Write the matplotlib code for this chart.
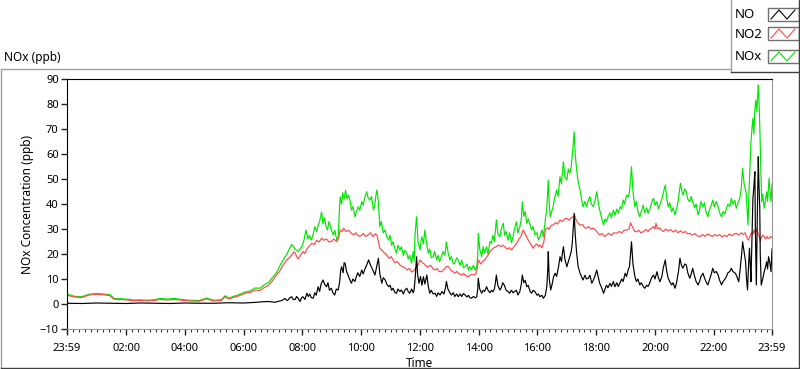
import matplotlib
matplotlib.use("Agg")
import matplotlib.pyplot as plt
from matplotlib.lines import Line2D
from matplotlib.patches import Rectangle

plt.rcParams['font.family'] = ['Noto Sans', 'DejaVu Sans']

# time in minutes after 23:59 of the previous day, values in ppb
no_t = [0, 30, 60, 90, 120, 150, 180, 210, 240, 270, 300, 330, 360, 380, 400, 411, 425,
        440, 445, 450, 455, 459, 462, 466, 469, 472, 476, 479, 482, 486, 490, 493, 496, 499,
        503, 506, 509, 513, 516, 519, 523, 526, 530, 533, 536, 540, 543, 547, 550, 554, 557,
        559, 561, 564, 566, 568, 571, 574, 577, 581, 584, 588, 591, 594, 598, 602, 605, 609,
        612, 616, 619, 623, 626, 629, 632, 634, 636, 639, 643, 646, 650, 653, 657, 660, 663,
        666, 670, 673, 676, 680, 683, 687, 690, 694, 697, 700, 704, 707, 709, 711, 714, 716,
        719, 722, 725, 728, 731, 735, 738, 741, 744, 748, 752, 755, 758, 762, 766, 770, 773,
        775, 778, 782, 785, 789, 792, 796, 799, 803, 806, 810, 813, 817, 820, 823, 826, 830,
        834, 837, 839, 840, 843, 847, 850, 853, 857, 860, 864, 867, 870, 873, 875, 877, 880,
        884, 887, 890, 893, 897, 901, 904, 908, 911, 914, 918, 921, 925, 928, 930, 933, 936,
        939, 942, 946, 949, 952, 956, 960, 963, 966, 970, 973, 977, 980, 982, 983, 985, 988,
        991, 994, 997, 1000, 1004, 1007, 1010, 1012, 1014, 1017, 1021, 1024, 1027, 1030,
        1032, 1034, 1036, 1038, 1041, 1044, 1048, 1051, 1054, 1058, 1061, 1065, 1068, 1072,
        1075, 1078, 1082, 1085, 1088, 1092, 1096, 1099, 1102, 1105, 1109, 1112, 1116, 1119,
        1123, 1126, 1129, 1133, 1136, 1140, 1143, 1146, 1149, 1151, 1153, 1156, 1160, 1163,
        1166, 1170, 1173, 1177, 1180, 1184, 1187, 1190, 1194, 1198, 1201, 1205, 1208, 1211,
        1215, 1218, 1222, 1225, 1228, 1231, 1235, 1238, 1242, 1245, 1249, 1252, 1255, 1258,
        1262, 1265, 1268, 1272, 1275, 1278, 1282, 1285, 1289, 1292, 1295, 1299, 1302, 1305,
        1309, 1312, 1316, 1319, 1322, 1326, 1330, 1333, 1337, 1340, 1344, 1347, 1350, 1354,
        1357, 1360, 1364, 1367, 1370, 1372, 1375, 1378, 1380, 1383, 1386, 1388, 1390, 1392,
        1394, 1396, 1397, 1399, 1401, 1403, 1405, 1406, 1408, 1410, 1412, 1413, 1415, 1416,
        1418, 1421, 1424, 1427, 1429, 1431, 1433, 1436, 1438, 1440]
no_v = [0.3, 0.2, 0.4, 0.3, 0.2, 0.4, 0.3, 0.2, 0.4, 0.3, 0.3, 0.5, 0.4, 0.6, 0.9, 1.0, 0.7,
        1.5, 2.2, 1.3, 2.5, 2.9, 1.8, 1.8, 3.0, 2.3, 1.0, 2.5, 2.9, 1.8, 4.3, 3.0, 4.0, 2.5,
        2.3, 4.5, 3.5, 6.9, 5.0, 8.0, 9.6, 8.0, 6.9, 8.5, 5.5, 6.3, 4.5, 3.6, 6.0, 5.6, 9.0,
        13.5, 14.9, 12.5, 16.5, 16.3, 13.0, 11.6, 10.0, 8.3, 10.0, 9.0, 10.9, 12.5, 11.0, 13.6, 12.0, 14.3,
        15.5, 17.6, 16.0, 14.3, 13.0, 11.6, 14.5, 16.5, 18.3, 12.0, 8.3, 10.5, 9.6, 8.0, 6.9, 7.5, 5.5,
        6.3, 4.5, 4.3, 6.0, 5.0, 5.6, 4.0, 5.5, 6.3, 5.0, 4.3, 6.0, 4.5, 5.6, 10.0, 18.9, 12.0,
        8.3, 11.0, 7.5, 10.9, 8.0, 11.6, 7.0, 4.3, 5.5, 4.0, 4.3, 3.0, 4.5, 3.6, 5.0, 4.0, 6.5,
        9.0, 6.0, 4.5, 3.6, 4.5, 3.0, 4.0, 2.9, 4.0, 3.0, 4.2, 3.6, 2.8, 3.5, 2.5, 2.3, 3.0,
        2.5, 2.9, 6.0, 10.3, 6.0, 4.3, 5.5, 5.0, 6.9, 5.5, 4.5, 5.5, 4.9, 6.0, 8.5, 11.6, 7.5,
        5.6, 6.5, 8.5, 7.6, 5.5, 5.0, 4.3, 5.5, 4.5, 4.9, 5.5, 3.6, 5.0, 8.0, 11.6, 8.5, 9.5,
        6.9, 7.5, 5.0, 4.3, 5.5, 4.9, 3.5, 4.0, 2.9, 3.5, 2.3, 3.5, 6.9, 14.0, 20.9, 10.0, 5.6,
        8.0, 11.0, 12.3, 11.0, 14.9, 18.9, 17.0, 20.5, 22.9, 18.0, 14.9, 17.0, 18.9, 21.0,
        24.3, 30.0, 36.3, 28.0, 20.3, 15.0, 12.3, 11.0, 9.6, 11.5, 10.0, 10.3, 11.5, 8.3,
        9.5, 11.0, 13.6, 11.0, 8.3, 6.5, 4.3, 6.0, 7.5, 6.5, 8.3, 7.0, 9.0, 6.9,
        8.5, 7.0, 8.3, 10.0, 9.0, 12.3, 11.0, 13.6, 15.0, 20.0, 24.9, 16.0, 10.9, 9.0,
        10.0, 7.6, 8.5, 7.0, 6.3, 7.5, 7.0, 8.3, 10.5, 11.6, 10.0, 12.9, 10.5, 8.9,
        11.0, 14.5, 17.6, 13.0, 10.3, 9.0, 7.6, 8.5, 6.3, 8.5, 13.0, 18.3, 15.5, 14.3,
        16.0, 15.6, 12.5, 10.3, 12.0, 14.3, 11.0, 9.0, 7.6, 9.0, 11.0, 12.3, 10.5, 9.0,
        7.6, 9.5, 12.0, 14.3, 12.5, 13.0, 11.6, 9.5, 7.6, 9.0, 10.0, 11.0, 12.5, 13.0,
        14.3, 13.0, 12.5, 11.6, 10.0, 8.9, 14.0, 20.0, 24.9, 21.0, 16.9, 10.0, 5.6, 15.0,
        22.3, 14.0, 8.9, 25.0, 42.3, 47.0, 52.9, 30.0, 7.6, 35.0, 58.9, 50.0, 38.3, 20.0,
        7.6, 10.0, 12.9, 15.0, 16.9, 14.0, 18.9, 16.0, 12.9, 22.0]

no2_t = [0, 15, 30, 45, 60, 75, 88, 96, 110, 125, 136, 150, 165, 177, 190, 205, 220, 235, 250,
         270, 285, 300, 315, 323, 330, 343, 352, 364, 374, 384, 394, 404, 412, 418, 428, 434,
         440, 445, 449, 454, 459, 463, 466, 469, 472, 477, 482, 486, 490, 495, 500, 505, 510,
         515, 520, 525, 530, 535, 540, 545, 551, 555, 558, 562, 565, 570, 575, 580, 585, 590,
         595, 600, 605, 610, 615, 620, 625, 629, 633, 636, 639, 643, 648, 653, 658, 662, 666,
         670, 675, 680, 685, 690, 694, 700, 704, 707, 711, 714, 718, 721, 726, 730, 734, 738,
         743, 748, 752, 756, 760, 765, 770, 775, 779, 784, 788, 792, 796, 801, 806, 810, 815,
         820, 825, 830, 835, 838, 840, 845, 849, 853, 858, 863, 867, 872, 877, 881, 886, 890,
         894, 899, 904, 908, 913, 918, 922, 927, 932, 936, 942, 947, 952, 956, 960, 963, 966,
         970, 974, 977, 981, 985, 989, 993, 998, 1002, 1007, 1012, 1016, 1021, 1025, 1030,
         1034, 1037, 1040, 1044, 1048, 1053, 1057, 1061, 1066, 1070, 1075, 1080, 1084, 1088,
         1093, 1098, 1102, 1107, 1112, 1117, 1123, 1128, 1133, 1138, 1143, 1148, 1151, 1153,
         1157, 1160, 1163, 1168, 1172, 1177, 1182, 1187, 1191, 1194, 1198, 1201, 1203, 1206,
         1210, 1214, 1218, 1223, 1228, 1233, 1238, 1243, 1248, 1253, 1258, 1263, 1268, 1272,
         1277, 1282, 1287, 1293, 1298, 1303, 1308, 1313, 1318, 1323, 1328, 1333, 1338, 1343,
         1348, 1353, 1358, 1363, 1367, 1372, 1377, 1381, 1385, 1387, 1390, 1392, 1395, 1398,
         1401, 1403, 1406, 1408, 1410, 1412, 1414, 1416, 1418, 1421, 1424, 1427, 1430, 1432,
         1434, 1437, 1440]
no2_v = [3.5, 2.8, 2.6, 3.6, 3.9, 3.7, 3.3, 1.9, 1.8, 1.6, 1.3, 1.4, 1.2, 1.4, 1.8, 1.6, 1.8, 1.5, 1.2,
         1.1, 2.0, 1.2, 1.4, 2.9, 2.0, 2.8, 3.3, 4.3, 4.6, 5.6, 5.4, 6.7, 7.5, 8.9, 11.6, 13.0,
         15.2, 16.5, 17.6, 18.5, 19.6, 20.8, 20.5, 19.0, 18.0, 19.5, 21.0, 20.2, 22.0, 23.2, 24.3, 23.8, 25.5,
         24.8, 26.3, 25.5, 26.0, 24.8, 25.0, 26.0, 24.9, 26.5, 29.6, 29.0, 30.3, 29.0, 29.5, 28.5, 27.6, 28.5,
         27.2, 27.2, 28.2, 27.0, 27.6, 28.5, 26.9, 28.0, 27.6, 25.0, 22.3, 21.5, 20.5, 19.6, 18.2, 19.0, 17.6,
         16.5, 17.0, 15.6, 15.0, 14.5, 13.6, 14.2, 12.8, 13.0, 14.0, 14.9, 16.0, 17.6, 16.5, 16.0, 15.0, 14.9,
         15.5, 14.0, 13.6, 14.2, 13.0, 12.9, 13.8, 15.0, 14.9, 13.5, 13.0, 12.3, 13.0, 12.0, 11.6, 12.2, 11.2,
         10.9, 11.8, 11.6, 12.0, 14.0, 17.6, 16.0, 17.0, 17.6, 19.0, 20.5, 21.6, 22.5, 23.0, 23.6, 23.0, 23.5,
         22.9, 22.0, 22.5, 21.6, 23.0, 24.0, 25.6, 27.0, 29.6, 28.0, 25.6, 24.0, 22.3, 23.5, 24.0, 23.0, 23.6,
         22.5, 25.0, 29.6, 30.5, 30.0, 31.5, 31.6, 32.5, 32.0, 33.6, 33.0, 34.0, 34.3, 33.5, 34.5,
         34.9, 35.5, 33.5, 32.3, 31.5, 31.8, 30.5, 30.3, 31.0, 30.0, 30.3, 29.5, 28.5, 27.6,
         28.2, 27.0, 27.6, 28.3, 27.5, 28.5, 28.3, 29.0, 28.5, 29.5, 29.6, 30.0, 32.5, 31.6,
         30.0, 29.0, 28.9, 29.5, 28.5, 28.9, 29.8, 29.0, 30.0, 30.3, 31.0, 30.0, 32.3, 30.0,
         30.5, 29.5, 29.0, 30.0, 29.2, 29.8, 28.8, 29.5, 28.5, 29.3, 28.5, 29.0, 28.0, 28.3,
         27.5, 28.2, 27.3, 27.0, 27.8, 27.0, 28.0, 27.6, 27.0, 27.8, 27.2, 27.8, 26.8, 27.5,
         27.0, 28.0, 27.3, 28.0, 28.3, 27.5, 28.5, 27.8, 28.5, 27.6, 26.0, 25.6, 27.0, 28.5,
         28.0, 29.6, 28.0, 30.0, 29.0, 28.0, 27.0, 25.0, 26.5, 27.5, 27.0, 26.0, 27.0, 26.3,
         26.3, 27.0, 26.5]

nox_t = [0, 15, 30, 45, 60, 75, 88, 96, 110, 125, 136, 150, 165, 177, 190, 205, 220, 235, 250,
         270, 285, 300, 315, 323, 330, 343, 352, 364, 374, 384, 394, 404, 412, 418, 428, 438,
         449, 459, 466, 472, 480, 484, 488, 492, 495, 499, 503, 506, 510, 513, 516, 520, 523,
         526, 529, 532, 535, 538, 541, 544, 547, 551, 554, 556, 558, 561, 563, 566, 569, 572,
         575, 578, 581, 584, 588, 591, 595, 598, 602, 605, 608, 612, 615, 619, 622, 626, 629,
         631, 633, 636, 639, 642, 646, 650, 653, 657, 660, 663, 666, 670, 673, 676, 680, 683,
         687, 690, 694, 697, 700, 704, 707, 709, 711, 714, 717, 721, 723, 725, 728, 731, 734,
         738, 741, 744, 748, 751, 755, 758, 761, 765, 768, 772, 775, 778, 782, 785, 789, 792,
         796, 799, 803, 806, 810, 813, 817, 820, 823, 826, 830, 834, 837, 839, 840, 843, 847,
         850, 853, 857, 860, 864, 867, 870, 873, 877, 880, 884, 887, 891, 894, 897, 901, 904,
         908, 911, 914, 918, 921, 925, 928, 930, 933, 936, 939, 942, 946, 949, 952, 956, 960,
         963, 966, 970, 973, 977, 980, 983, 985, 987, 990, 993, 996, 1000, 1003, 1007, 1010,
         1012, 1014, 1017, 1021, 1024, 1027, 1030, 1033, 1036, 1038, 1041, 1044, 1048, 1051,
         1054, 1058, 1061, 1065, 1068, 1071, 1075, 1078, 1082, 1085, 1088, 1092, 1096, 1099,
         1102, 1105, 1109, 1112, 1116, 1119, 1123, 1126, 1130, 1133, 1136, 1139, 1143, 1146,
         1149, 1151, 1153, 1156, 1160, 1163, 1166, 1170, 1173, 1177, 1180, 1184, 1187, 1191,
         1194, 1198, 1201, 1205, 1208, 1211, 1215, 1218, 1222, 1225, 1228, 1231, 1235, 1238,
         1242, 1245, 1248, 1250, 1253, 1256, 1258, 1262, 1265, 1268, 1272, 1275, 1278, 1282,
         1285, 1289, 1292, 1295, 1299, 1302, 1305, 1309, 1312, 1316, 1319, 1322, 1326, 1330,
         1333, 1337, 1340, 1344, 1347, 1350, 1354, 1357, 1360, 1364, 1367, 1370, 1374, 1377,
         1380, 1383, 1387, 1389, 1391, 1393, 1395, 1397, 1399, 1401, 1403, 1405, 1407, 1409,
         1412, 1413, 1415, 1417, 1419, 1421, 1424, 1427, 1429, 1431, 1434, 1436, 1438, 1440]
nox_v = [4.0, 3.1, 2.9, 3.9, 4.2, 4.0, 3.7, 2.2, 2.1, 1.9, 1.6, 1.7, 1.5, 1.7, 2.2, 2.0, 2.2, 1.8, 1.5,
         1.4, 2.4, 1.5, 1.7, 3.3, 2.4, 3.2, 3.8, 4.8, 5.2, 6.4, 6.3, 7.8, 8.6, 10.2, 12.6, 16.5,
         19.9, 23.9, 22.0, 21.0, 23.0, 25.5, 29.6, 26.0, 27.5, 25.6, 28.0, 30.9, 29.0, 31.5, 33.0, 36.9, 32.0,
         34.5, 31.0, 29.6, 33.0, 31.0, 29.0, 27.6, 29.5, 25.6, 27.0, 36.0, 42.9, 40.0, 44.5, 42.0, 45.5, 42.0,
         43.5, 41.6, 37.6, 39.0, 34.9, 37.0, 38.9, 37.5, 40.9, 39.5, 42.5, 44.9, 42.5, 41.6, 43.0, 37.6, 40.0,
         43.5, 45.6, 41.0, 30.9, 33.0, 28.5, 29.6, 27.0, 25.6, 27.5, 23.5, 24.9, 22.0, 20.3, 23.5, 21.5, 22.9,
         19.5, 21.5, 20.3, 18.0, 19.5, 16.3, 21.0, 17.0, 28.3, 34.9, 25.0, 21.6, 25.0, 26.9, 24.0, 29.6, 25.0,
         20.3, 22.0, 18.5, 19.0, 21.0, 17.6, 19.5, 17.0, 19.0, 21.0, 19.5, 24.9, 21.0, 17.6, 19.0, 16.0, 16.3,
         18.5, 17.6, 15.5, 17.5, 14.5, 14.9, 16.0, 13.5, 15.0, 13.6, 15.5, 13.5, 14.9, 20.0, 28.3, 22.0, 19.0,
         23.0, 20.5, 22.9, 20.0, 25.0, 24.3, 27.5, 25.0, 33.6, 28.0, 26.9, 30.0, 32.3, 27.5, 29.0, 25.6, 28.5,
         24.5, 26.9, 30.0, 32.9, 28.5, 30.9, 34.0, 40.9, 35.0, 37.0, 32.3, 34.0, 31.6, 29.6, 31.0, 27.6, 28.5,
         25.6, 27.0, 29.6, 27.0, 33.6, 38.0, 49.6, 40.0, 34.9, 37.0, 38.9, 42.5, 45.6, 43.0, 50.9, 48.0,
         53.0, 56.9, 51.0, 49.6, 54.0, 52.3, 55.0, 61.6, 68.9, 60.0, 53.6, 49.0, 45.6, 42.0,
         38.9, 41.0, 39.0, 41.6, 43.0, 40.0, 38.9, 41.0, 44.9, 41.0, 37.6, 34.5, 31.6, 34.0,
         33.0, 34.9, 36.5, 34.5, 37.6, 35.5, 38.0, 36.3, 39.0, 38.0, 41.6, 40.0, 43.5, 42.9,
         45.0, 50.0, 54.9, 45.0, 38.9, 41.0, 37.0, 34.9, 37.0, 39.6, 36.5, 38.5, 36.3, 38.3,
         40.5, 42.3, 39.5, 40.9, 38.0, 39.6, 42.0, 44.5, 47.6, 42.5, 38.9, 40.5, 36.9, 38.5,
         35.6, 38.0, 40.9, 44.0, 48.3, 45.0, 43.6, 46.0, 44.9, 42.0, 40.9, 43.0, 40.9, 38.5,
         40.0, 35.6, 37.5, 41.0, 38.9, 40.5, 37.0, 34.9, 37.5, 39.5, 41.6, 39.0, 41.0, 38.9,
         36.5, 34.9, 37.0, 36.0, 38.3, 40.0, 39.0, 42.3, 40.0, 41.5, 38.3, 40.0, 42.3, 46.0,
         54.3, 48.0, 44.9, 38.0, 31.6, 45.0, 55.0, 64.9, 70.0, 74.3, 68.0, 78.0, 81.6, 77.0,
         87.6, 84.0, 71.6, 55.0, 40.9, 44.0, 38.3, 42.0, 44.9, 41.0, 50.3, 45.0, 40.9, 48.0]

series_names = ["NO", "NO2", "NOx"]
series_colors = ["#000000", "#ff4848", "#00e600"]

x_ticks = [0, 121, 241, 361, 481, 601, 721, 841, 961, 1081, 1201, 1321, 1440]
x_labels = ["23:59", "02:00", "04:00", "06:00", "08:00", "10:00", "12:00",
            "14:00", "16:00", "18:00", "20:00", "22:00", "23:59"]
y_ticks = [-10, 0, 10, 20, 30, 40, 50, 60, 70, 80, 90]

W, H = 800, 369
fig = plt.figure(figsize=(W / 100, H / 100), dpi=100)
fig.patch.set_facecolor("white")


def fx(px):
    return px / W


def fy(py):
    return 1 - py / H


def pline(xs, ys, color, lw=1.0):
    fig.add_artist(Line2D([fx(x) for x in xs], [fy(y) for y in ys],
                          transform=fig.transFigure, color=color, lw=lw))


# outer panel frame (gray top/left, dark bottom/right)
pline([1, 1], [69, 368], "#a0a0a0")
pline([1, 731], [69, 69], "#a0a0a0")
pline([1, 799], [368, 368], "#404040")
pline([799, 799], [0, 368], "#404040")

ax = fig.add_axes([fx(67), fy(329), fx(772) - fx(67), fy(79) - fy(329)])
ax.plot(nox_t, nox_v, color=series_colors[2], lw=0.85)
ax.plot(no2_t, no2_v, color=series_colors[1], lw=0.85)
ax.plot(no_t, no_v, color=series_colors[0], lw=0.85)

ax.set_xlim(0, 1440)
ax.set_ylim(-10, 90)
ax.set_xticks(x_ticks)
ax.set_xticklabels(x_labels)
ax.set_xticks(list(range(1, 1440, 12)), minor=True)
ax.set_yticks(y_ticks)
ax.tick_params(axis="both", direction="out", labelsize=8, color="#202020", width=1)
ax.tick_params(axis="x", which="major", length=4, pad=6)
ax.tick_params(axis="x", which="minor", length=2)
ax.tick_params(axis="y", length=4, pad=2)
for s in ["left", "top"]:
    ax.spines[s].set_color("black")
for s in ["right", "bottom"]:
    ax.spines[s].set_color("#9a9a9a")
ax.set_xlabel("Time", fontsize=8.5, labelpad=2)
ax.set_ylabel("NOx Concentration (ppb)", fontsize=8.5, labelpad=4)

fig.text(fx(4), fy(58), "NOx (ppb)", fontsize=8.5, va="center", ha="left")

# legend panel
pline([731, 731], [0, 72], "#a0a0a0")
pline([731, 799], [72, 72], "#404040")
box_top = [8, 27, 50]
for name, color, top in zip(series_names, series_colors, box_top):
    bottom = top + 13
    fig.text(fx(735), fy((top + bottom) / 2 + 0.5), name, fontsize=9.5, va="center", ha="left")
    fig.add_artist(Rectangle((fx(768), fy(bottom)), fx(799) - fx(768), fy(top) - fy(bottom),
                             transform=fig.transFigure, facecolor="white",
                             edgecolor="#707070", lw=1.0))
    pline([771, 779, 787, 795], [bottom - 2, top + 2, bottom - 2, top + 2], color, lw=0.8)

fig.savefig("out.png", dpi=100, facecolor="white")
